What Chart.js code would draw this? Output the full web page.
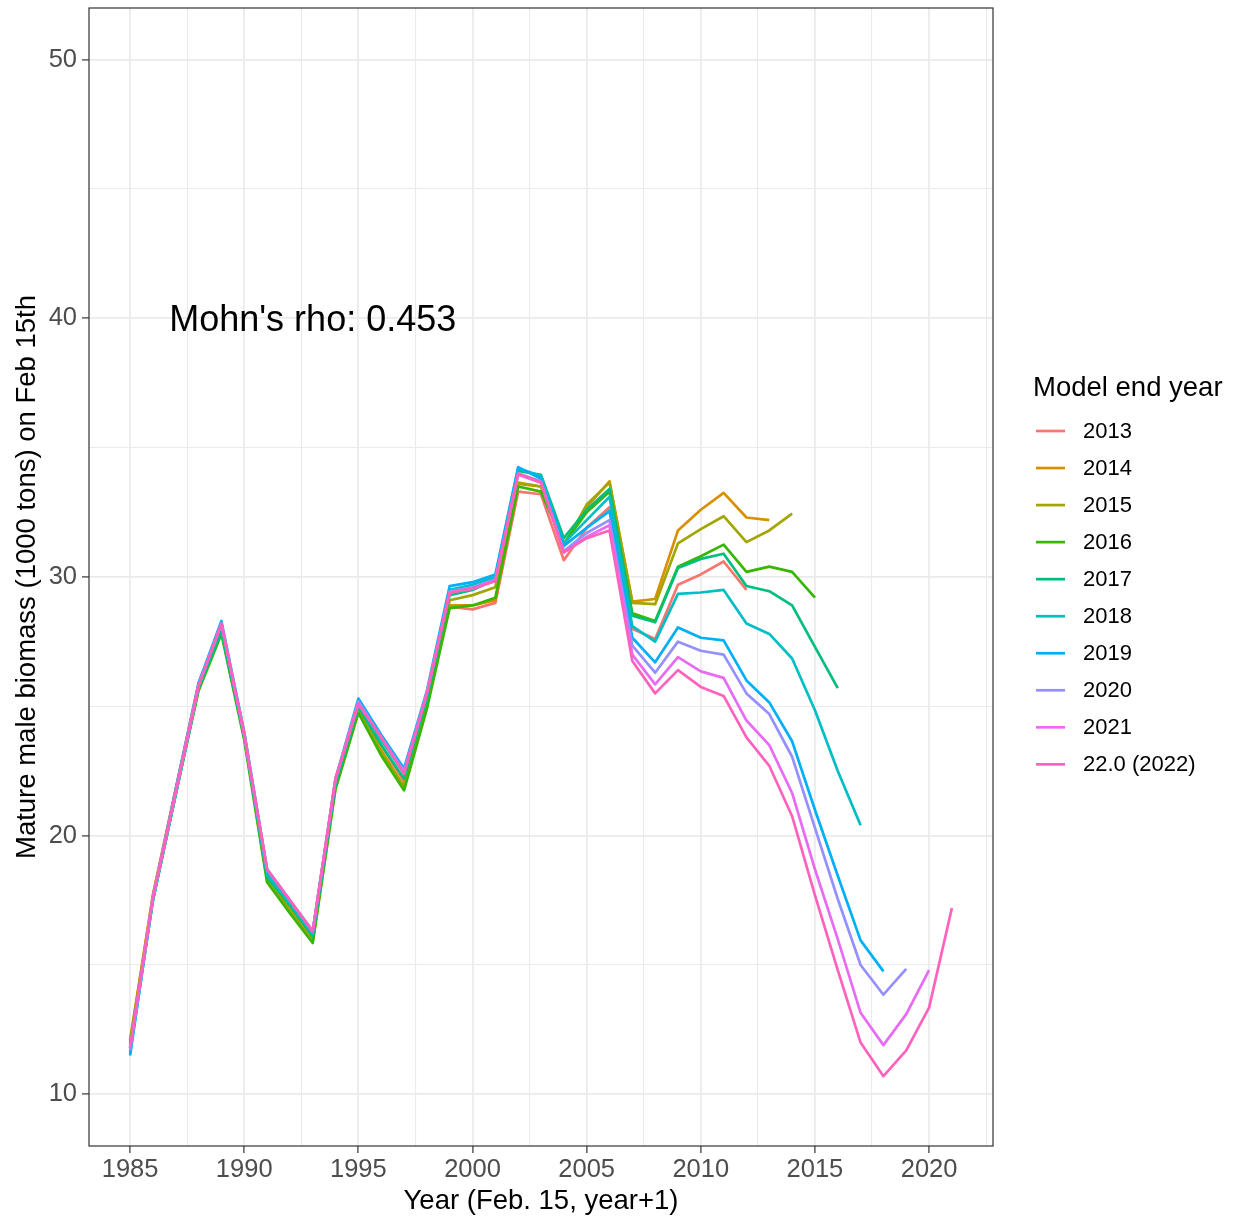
<!DOCTYPE html>
<html>
<head>
<meta charset="utf-8">
<script src="https://cdn.jsdelivr.net/npm/chart.js@4"></script>
<style>
html,body{margin:0;padding:0;background:#fff;}
#wrap{width:1238px;height:1220px;}
</style>
</head>
<body>
<div id="wrap"><canvas id="c" width="1238" height="1220"></canvas></div>
<script>
const years = [1985,1986,1987,1988,1989,1990,1991,1992,1993,1994,1995,1996,1997,1998,1999,2000,2001,2002,2003,2004,2005,2006,2007,2008,2009,2010,2011,2012,2013,2014,2015,2016,2017,2018,2019,2020,2021];

const seriesLabels = ['2013','2014','2015','2016','2017','2018','2019','2020','2021','22.0 (2022)'];
const seriesColors = ['#F8766D','#D89000','#A3A500','#39B600','#00BF7D','#00BFC4','#00B0F6','#9590FF','#E76BF3','#FF62BC'];

const m2013 = [12.0,17.7,21.8,25.9,28.1,24.0,18.6,17.3,16.1,22.1,25.0,23.5,22.1,25.3,28.85,28.75,29.0,33.3,33.2,30.65,31.9,32.7,28.0,27.6,29.7,30.1,30.6,29.5];
const m2014 = [12.1,17.7,21.8,25.8,28.0,23.9,18.4,17.2,16.0,22.0,24.9,23.3,21.9,25.1,28.9,28.9,29.1,33.6,33.5,31.2,32.7,33.7,29.05,29.15,31.8,32.6,33.25,32.3,32.2];
const m2015 = [12.0,17.6,21.7,25.7,27.9,23.8,18.3,17.1,15.9,21.9,24.8,23.2,21.9,25.1,29.1,29.3,29.6,33.65,33.5,31.2,32.8,33.65,29.0,28.95,31.3,31.85,32.35,31.35,31.8,32.45];
const m2016 = [11.9,17.5,21.6,25.6,27.8,23.7,18.2,17.0,15.85,21.8,24.75,23.1,21.75,24.9,28.8,28.9,29.2,33.5,33.3,31.3,32.5,33.3,28.6,28.3,30.4,30.8,31.25,30.2,30.4,30.2,29.2];
const m2017 = [11.8,17.5,21.6,25.7,27.9,23.8,18.4,17.3,16.1,22.0,25.0,23.5,22.2,25.3,29.3,29.5,29.9,34.1,33.95,31.5,32.6,33.4,28.5,28.25,30.35,30.7,30.9,29.65,29.45,28.9,27.3,25.7];
const m2018 = [11.6,17.5,21.6,25.8,28.1,23.9,18.5,17.4,16.2,22.1,25.1,23.7,22.4,25.4,29.5,29.7,30.0,34.2,33.9,31.3,32.2,33.1,28.1,27.5,29.35,29.4,29.5,28.2,27.8,26.85,24.85,22.5,20.4];
const m2019 = [11.5,17.6,21.8,25.9,28.3,24.0,18.7,17.5,16.3,22.2,25.3,23.9,22.6,25.6,29.65,29.8,30.1,34.25,33.8,31.2,31.9,32.55,27.65,26.7,28.05,27.65,27.55,26.0,25.15,23.65,21.0,18.45,15.95,14.75];
const m2020 = [11.7,17.6,21.7,25.8,28.2,23.9,18.7,17.5,16.3,22.2,25.2,23.8,22.5,25.5,29.45,29.6,29.9,34.0,33.7,31.0,31.7,32.2,27.35,26.3,27.5,27.15,27.0,25.5,24.7,23.05,20.3,17.55,15.0,13.85,14.85];
const m2021 = [11.8,17.6,21.7,25.8,28.2,23.9,18.7,17.5,16.3,22.2,25.1,23.8,22.4,25.5,29.4,29.55,29.85,33.95,33.65,30.95,31.55,32.0,27.0,25.85,26.9,26.35,26.1,24.45,23.5,21.65,18.7,16.0,13.15,11.9,13.1,14.8];
const m2022 = [11.8,17.6,21.7,25.8,28.2,23.9,18.7,17.5,16.3,22.2,25.1,23.8,22.4,25.5,29.4,29.55,29.85,34.0,33.65,30.95,31.5,31.8,26.75,25.5,26.4,25.75,25.4,23.8,22.7,20.75,17.7,14.8,12.0,10.7,11.7,13.35,17.2];

const seriesValues = [m2013,m2014,m2015,m2016,m2017,m2018,m2019,m2020,m2021,m2022];

const xTickStep = 2.5, xLabelEvery = 5;
const yTickStep = 5, yLabelEvery = 10;
const xTitle = 'Year (Feb. 15, year+1)';
const yTitle = 'Mature male biomass (1000 tons) on Feb 15th';
const legendTitle = 'Model end year';
const annotationText = "Mohn's rho: 0.453";
const annotationPos = {x: 1993, y: 40};

const FONT = "'Liberation Sans', Arial, sans-serif";
const LW = 2.7;

const datasets = seriesValues.map((vals, i) => ({
  label: seriesLabels[i],
  data: vals.map((v, j) => ({x: years[j], y: v})),
  borderColor: seriesColors[i],
  backgroundColor: seriesColors[i],
  borderWidth: LW,
  pointRadius: 0,
  tension: 0,
  fill: false,
  borderJoinStyle: 'round',
  order: seriesValues.length - 1 - i
}));

const isMult = (v, m) => Math.abs(v / m - Math.round(v / m)) < 1e-6;

const decor = {
  id: 'decor',
  afterDatasetsDraw(chart) {
    const {ctx, chartArea: a, scales} = chart;
    ctx.save();
    ctx.strokeStyle = '#333333';
    ctx.lineWidth = 1.2;
    ctx.strokeRect(a.left, a.top, a.right - a.left, a.bottom - a.top);
    // annotation
    const fs = 36;
    ctx.font = fs + 'px ' + FONT;
    ctx.fillStyle = '#000';
    ctx.textAlign = 'center';
    ctx.textBaseline = 'alphabetic';
    ctx.fillText(annotationText, scales.x.getPixelForValue(annotationPos.x), scales.y.getPixelForValue(annotationPos.y) + 0.358 * fs);
    // legend
    ctx.textAlign = 'left';
    ctx.textBaseline = 'middle';
    ctx.font = '27.5px ' + FONT;
    ctx.fillText(legendTitle, 1033, 388);
    ctx.font = '22px ' + FONT;
    for (let k = 0; k < seriesLabels.length; k++) {
      const y = 431 + 37.04 * k;
      ctx.strokeStyle = seriesColors[k];
      ctx.lineWidth = LW;
      ctx.beginPath();
      ctx.moveTo(1036, y);
      ctx.lineTo(1065, y);
      ctx.stroke();
      ctx.fillStyle = '#000';
      ctx.fillText(seriesLabels[k], 1083, y + 1);
    }
    ctx.restore();
  }
};

new Chart(document.getElementById('c'), {
  type: 'line',
  data: {datasets},
  plugins: [decor],
  options: {
    responsive: false,
    animation: false,
    events: [],
    layout: {padding: {top: 8, right: 245, left: 0, bottom: 0}},
    plugins: {legend: {display: false}, tooltip: {enabled: false}},
    scales: {
      x: {
        type: 'linear',
        min: 1983.2,
        max: 2022.8,
        afterFit(s) { s.height = 74; s.paddingLeft = 0; s.paddingRight = 0; },
        border: {display: false},
        grid: {
          color: '#EBEBEB',
          lineWidth: (c) => (c.tick && isMult(c.tick.value, xLabelEvery)) ? 1.8 : 1.1,
          tickColor: (c) => (c.tick && isMult(c.tick.value, xLabelEvery)) ? '#333333' : 'rgba(0,0,0,0)',
          tickLength: 7,
          tickWidth: 1.2,
          drawTicks: true
        },
        ticks: {
          stepSize: xTickStep,
          includeBounds: false,
          autoSkip: false,
          maxRotation: 0,
          padding: 2,
          color: '#4D4D4D',
          font: {family: FONT, size: 25.5},
          callback: (v) => isMult(v, xLabelEvery) ? String(Math.round(v)) : ''
        },
        title: {display: true, text: xTitle, color: '#000', font: {family: FONT, size: 27.5}, padding: {top: 0, bottom: 2}}
      },
      y: {
        type: 'linear',
        min: 8,
        max: 52,
        afterFit(s) { s.width = 89; s.paddingTop = 0; s.paddingBottom = 0; },
        border: {display: false},
        grid: {
          color: '#EBEBEB',
          lineWidth: (c) => (c.tick && isMult(c.tick.value, yLabelEvery)) ? 1.8 : 1.1,
          tickColor: (c) => (c.tick && isMult(c.tick.value, yLabelEvery)) ? '#333333' : 'rgba(0,0,0,0)',
          tickLength: 7,
          tickWidth: 1.2,
          drawTicks: true
        },
        ticks: {
          stepSize: yTickStep,
          includeBounds: false,
          autoSkip: false,
          padding: 5,
          color: '#4D4D4D',
          font: {family: FONT, size: 25.5},
          callback: (v) => isMult(v, yLabelEvery) ? String(Math.round(v)) : ''
        },
        title: {display: true, text: yTitle, color: '#000', font: {family: FONT, size: 27.5}, padding: {top: 11, bottom: 0}}
      }
    }
  }
});
</script>
</body>
</html>
